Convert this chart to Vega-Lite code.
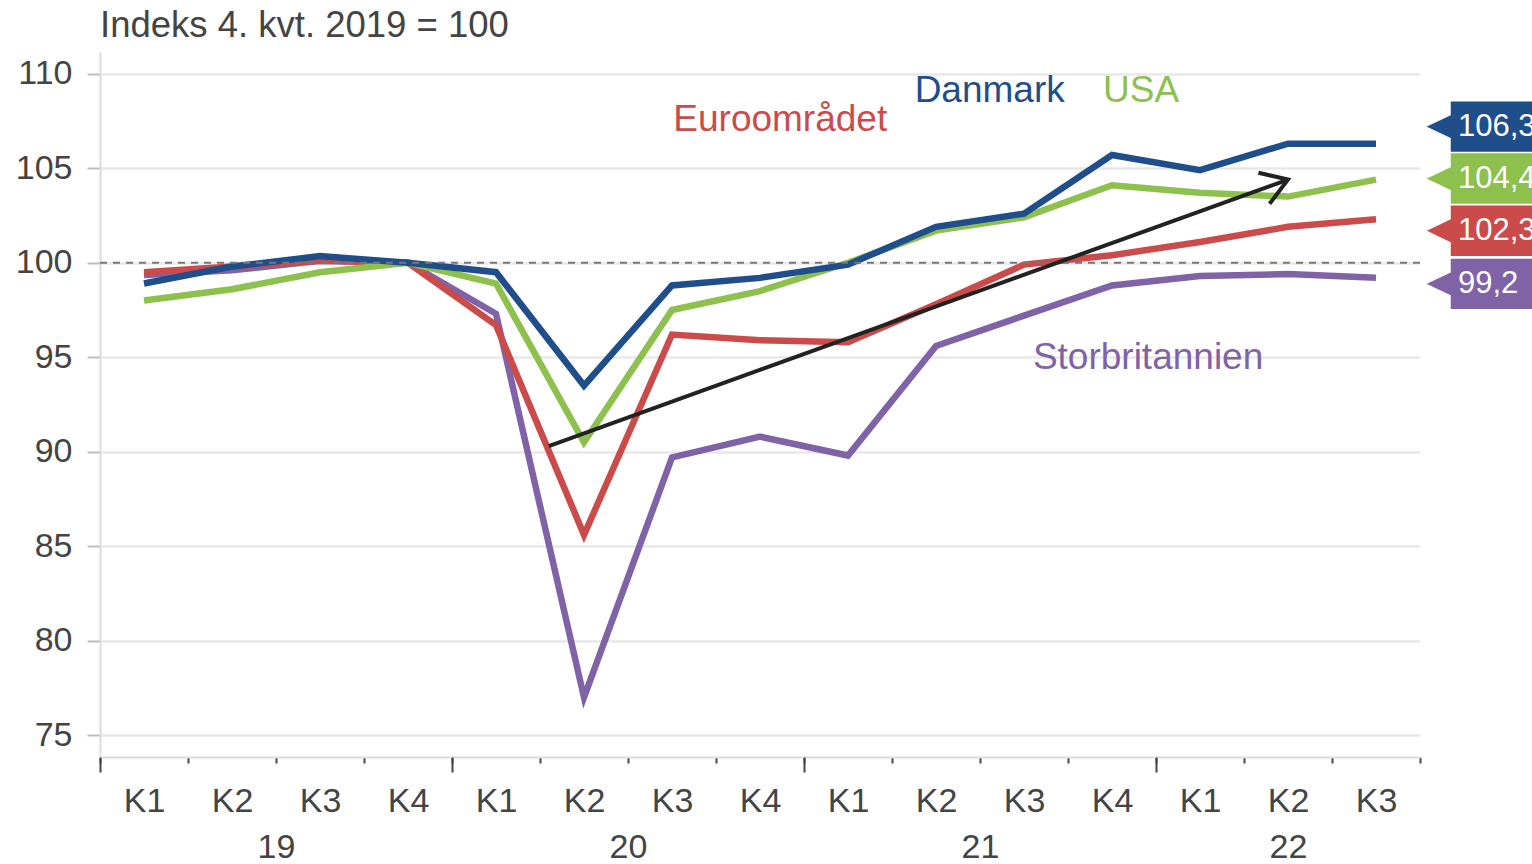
{
  "$schema": "https://vega.github.io/schema/vega-lite/v6.json",
  "width": 1320,
  "height": 705,
  "autosize": {"type": "none"},
  "padding": {"left": 100, "top": 52, "right": 112, "bottom": 107},
  "background": "white",
  "config": {"font": "Liberation Sans", "view": {"stroke": null}},
  "title": {"text": "Indeks 4. kvt. 2019 = 100", "anchor": "start", "frame": "group", "fontSize": 36.5, "fontWeight": "normal", "color": "#444", "offset": 8},
  "datasets": {
    "main": [
      {"kvartal": "2019K1", "i": 0, "series": "Storbritannien", "value": 99.35},
      {"kvartal": "2019K2", "i": 1, "series": "Storbritannien", "value": 99.6},
      {"kvartal": "2019K3", "i": 2, "series": "Storbritannien", "value": 100.1},
      {"kvartal": "2019K4", "i": 3, "series": "Storbritannien", "value": 100.0},
      {"kvartal": "2020K1", "i": 4, "series": "Storbritannien", "value": 97.3},
      {"kvartal": "2020K2", "i": 5, "series": "Storbritannien", "value": 77.0},
      {"kvartal": "2020K3", "i": 6, "series": "Storbritannien", "value": 89.7},
      {"kvartal": "2020K4", "i": 7, "series": "Storbritannien", "value": 90.8},
      {"kvartal": "2021K1", "i": 8, "series": "Storbritannien", "value": 89.8},
      {"kvartal": "2021K2", "i": 9, "series": "Storbritannien", "value": 95.6},
      {"kvartal": "2021K3", "i": 10, "series": "Storbritannien", "value": 97.2},
      {"kvartal": "2021K4", "i": 11, "series": "Storbritannien", "value": 98.8},
      {"kvartal": "2022K1", "i": 12, "series": "Storbritannien", "value": 99.3},
      {"kvartal": "2022K2", "i": 13, "series": "Storbritannien", "value": 99.4},
      {"kvartal": "2022K3", "i": 14, "series": "Storbritannien", "value": 99.2},
      {"kvartal": "2019K1", "i": 0, "series": "Euroområdet", "value": 99.5},
      {"kvartal": "2019K2", "i": 1, "series": "Euroområdet", "value": 99.8},
      {"kvartal": "2019K3", "i": 2, "series": "Euroområdet", "value": 100.1},
      {"kvartal": "2019K4", "i": 3, "series": "Euroområdet", "value": 100.0},
      {"kvartal": "2020K1", "i": 4, "series": "Euroområdet", "value": 96.7},
      {"kvartal": "2020K2", "i": 5, "series": "Euroområdet", "value": 85.6},
      {"kvartal": "2020K3", "i": 6, "series": "Euroområdet", "value": 96.2},
      {"kvartal": "2020K4", "i": 7, "series": "Euroområdet", "value": 95.9},
      {"kvartal": "2021K1", "i": 8, "series": "Euroområdet", "value": 95.8},
      {"kvartal": "2021K2", "i": 9, "series": "Euroområdet", "value": 97.8},
      {"kvartal": "2021K3", "i": 10, "series": "Euroområdet", "value": 99.9},
      {"kvartal": "2021K4", "i": 11, "series": "Euroområdet", "value": 100.4},
      {"kvartal": "2022K1", "i": 12, "series": "Euroområdet", "value": 101.1},
      {"kvartal": "2022K2", "i": 13, "series": "Euroområdet", "value": 101.9},
      {"kvartal": "2022K3", "i": 14, "series": "Euroområdet", "value": 102.3},
      {"kvartal": "2019K1", "i": 0, "series": "USA", "value": 98.0},
      {"kvartal": "2019K2", "i": 1, "series": "USA", "value": 98.6},
      {"kvartal": "2019K3", "i": 2, "series": "USA", "value": 99.5},
      {"kvartal": "2019K4", "i": 3, "series": "USA", "value": 100.0},
      {"kvartal": "2020K1", "i": 4, "series": "USA", "value": 98.9},
      {"kvartal": "2020K2", "i": 5, "series": "USA", "value": 90.5},
      {"kvartal": "2020K3", "i": 6, "series": "USA", "value": 97.5},
      {"kvartal": "2020K4", "i": 7, "series": "USA", "value": 98.5},
      {"kvartal": "2021K1", "i": 8, "series": "USA", "value": 100.0},
      {"kvartal": "2021K2", "i": 9, "series": "USA", "value": 101.7},
      {"kvartal": "2021K3", "i": 10, "series": "USA", "value": 102.4},
      {"kvartal": "2021K4", "i": 11, "series": "USA", "value": 104.1},
      {"kvartal": "2022K1", "i": 12, "series": "USA", "value": 103.7},
      {"kvartal": "2022K2", "i": 13, "series": "USA", "value": 103.5},
      {"kvartal": "2022K3", "i": 14, "series": "USA", "value": 104.4},
      {"kvartal": "2019K1", "i": 0, "series": "Danmark", "value": 98.9},
      {"kvartal": "2019K2", "i": 1, "series": "Danmark", "value": 99.8},
      {"kvartal": "2019K3", "i": 2, "series": "Danmark", "value": 100.35},
      {"kvartal": "2019K4", "i": 3, "series": "Danmark", "value": 100.0},
      {"kvartal": "2020K1", "i": 4, "series": "Danmark", "value": 99.5},
      {"kvartal": "2020K2", "i": 5, "series": "Danmark", "value": 93.5},
      {"kvartal": "2020K3", "i": 6, "series": "Danmark", "value": 98.8},
      {"kvartal": "2020K4", "i": 7, "series": "Danmark", "value": 99.2},
      {"kvartal": "2021K1", "i": 8, "series": "Danmark", "value": 99.9},
      {"kvartal": "2021K2", "i": 9, "series": "Danmark", "value": 101.9},
      {"kvartal": "2021K3", "i": 10, "series": "Danmark", "value": 102.6},
      {"kvartal": "2021K4", "i": 11, "series": "Danmark", "value": 105.7},
      {"kvartal": "2022K1", "i": 12, "series": "Danmark", "value": 104.9},
      {"kvartal": "2022K2", "i": 13, "series": "Danmark", "value": 106.3},
      {"kvartal": "2022K3", "i": 14, "series": "Danmark", "value": 106.3}
    ],
    "arrow": [
      {"x": 4.6, "y": 90.3},
      {"x": 13.0, "y": 104.4}
    ],
    "names": [
      {"series": "Euroområdet", "x": 7.23, "y": 107.55},
      {"series": "Danmark", "x": 9.61, "y": 109.1},
      {"series": "USA", "x": 11.33, "y": 109.1},
      {"series": "Storbritannien", "x": 11.41, "y": 94.96}
    ],
    "tags": [
      {"series": "Danmark", "i": 14, "value": 106.3, "label": "106,3"},
      {"series": "USA", "i": 14, "value": 104.4, "label": "104,4"},
      {"series": "Euroområdet", "i": 14, "value": 102.3, "label": "102,3"},
      {"series": "Storbritannien", "i": 14, "value": 99.2, "label": "99,2"}
    ]
  },
  "layer": [
    {
      "data": {"name": "main"},
      "mark": {"type": "line", "strokeWidth": 6.5, "strokeJoin": "miter"},
      "encoding": {
        "x": {
          "field": "i", "type": "quantitative", "title": null,
          "scale": {"domain": [-0.5, 14.5], "nice": false, "zero": false},
          "axis": {"orient": "bottom", "values": [-0.5, 0.5, 1.5, 2.5, 3.5, 4.5, 5.5, 6.5, 7.5, 8.5, 9.5, 10.5, 11.5, 12.5, 13.5, 14.5], "labels": false, "grid": false, "tickSize": 6, "tickWidth": 2, "tickColor": "#444", "domain": true, "domainColor": "#dcdcdc", "domainWidth": 2, "title": null}
        },
        "y": {
          "field": "value", "type": "quantitative", "title": null,
          "scale": {"domain": [73.85, 111.15], "nice": false, "zero": false},
          "axis": {"values": [75, 80, 85, 90, 95, 100, 105, 110], "grid": true, "gridColor": "#e8e8e8", "gridWidth": 2.5, "tickSize": 13, "tickColor": "#bdbdbd", "tickWidth": 2, "domainColor": "#dcdcdc", "domainWidth": 2, "labelFontSize": 34, "labelColor": "#444", "labelPadding": 15, "title": null}
        },
        "color": {
          "field": "series", "type": "nominal", "legend": null,
          "scale": {"domain": ["Danmark", "USA", "Euroområdet", "Storbritannien"], "range": ["#1f4e8b", "#8dc04d", "#cb4b4b", "#8062a7"]}
        },
        "order": {"field": "i", "type": "quantitative"}
      }
    },
    {
      "data": {"values": [{"ref": 100}]},
      "mark": {"type": "rule", "strokeDash": [7, 6], "strokeWidth": 2, "color": "#777"},
      "encoding": {
        "y": {"field": "ref", "type": "quantitative", "title": null}
      }
    },
    {
      "data": {"name": "arrow"},
      "mark": {"type": "line", "color": "#222", "strokeWidth": 4},
      "encoding": {
        "x": {
          "field": "x", "type": "quantitative", "title": null,
          "axis": {"orient": "bottom", "values": [0, 1, 2, 3, 4, 5, 6, 7, 8, 9, 10, 11, 12, 13, 14], "labelExpr": "'K' + ((datum.value % 4) + 1)", "ticks": false, "domain": false, "grid": false, "labelFontSize": 34, "labelColor": "#444", "labelPadding": 27, "labelOverlap": false, "title": null}
        },
        "y": {"field": "y", "type": "quantitative", "title": null}
      }
    },
    {
      "data": {"name": "arrow"},
      "transform": [{"filter": "datum.x == 13"}],
      "mark": {"type": "point", "shape": "M-0.85,-0.55L0,0L-0.85,0.55", "size": 3600, "filled": false, "color": "#222", "strokeWidth": 4, "angle": 340.2, "opacity": 1},
      "encoding": {
        "x": {
          "field": "x", "type": "quantitative", "title": null,
          "axis": {"orient": "bottom", "values": [1.5, 5.5, 9.5, 13], "labelExpr": "datum.value == 1.5 ? '19' : datum.value == 5.5 ? '20' : datum.value == 9.5 ? '21' : '22'", "ticks": false, "domain": false, "grid": false, "labelFontSize": 34, "labelColor": "#444", "labelPadding": 73, "labelOverlap": false, "title": null}
        },
        "y": {"field": "y", "type": "quantitative", "title": null}
      }
    },
    {
      "data": {"name": "names"},
      "mark": {"type": "text", "fontSize": 37, "align": "center", "baseline": "middle"},
      "encoding": {
        "x": {
          "field": "x", "type": "quantitative", "title": null,
          "axis": {"orient": "bottom", "values": [-0.5, 3.5, 7.5, 11.5], "labels": false, "tickSize": 15, "tickWidth": 2, "tickColor": "#444", "domain": false, "grid": false, "title": null}
        },
        "y": {"field": "y", "type": "quantitative", "title": null},
        "text": {"field": "series"},
        "color": {"field": "series", "type": "nominal", "legend": null}
      }
    },
    {
      "data": {"name": "tags"},
      "mark": {"type": "point", "shape": "M-1,0L-0.643,-0.17L-0.643,-0.371L1,-0.371L1,0.371L-0.643,0.371L-0.643,0.17Z", "size": 19600, "filled": true, "opacity": 1, "clip": false, "stroke": "white", "strokeWidth": 1.5, "xOffset": 119, "yOffset": {"expr": "datum.series == 'Danmark' ? -17 : datum.series == 'USA' ? -1 : datum.series == 'Euroområdet' ? 11.5 : 6"}},
      "encoding": {
        "x": {"field": "i", "type": "quantitative", "axis": null},
        "y": {"field": "value", "type": "quantitative", "title": null},
        "color": {"field": "series", "type": "nominal", "legend": null}
      }
    },
    {
      "data": {"name": "tags"},
      "mark": {"type": "text", "fontSize": 31, "align": "left", "baseline": "middle", "color": "white", "xOffset": 82, "yOffset": {"expr": "datum.series == 'Danmark' ? -17 : datum.series == 'USA' ? -1 : datum.series == 'Euroområdet' ? 11.5 : 6"}},
      "encoding": {
        "x": {"field": "i", "type": "quantitative", "axis": null},
        "y": {"field": "value", "type": "quantitative", "title": null},
        "text": {"field": "label"}
      }
    }
  ],
  "resolve": {"axis": {"x": "independent"}}
}
